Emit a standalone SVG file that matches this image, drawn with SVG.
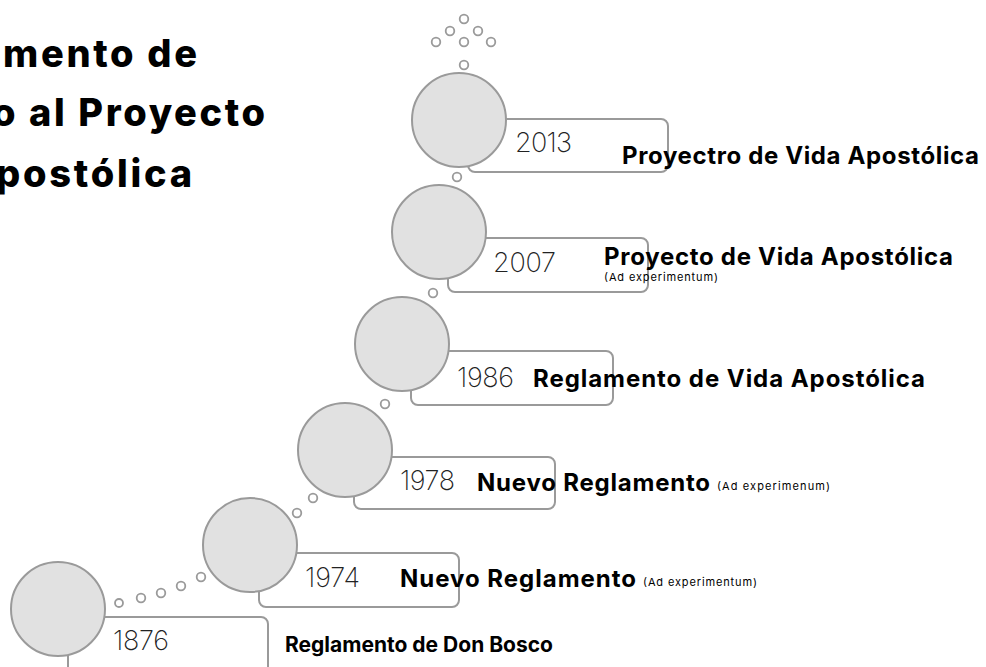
<svg xmlns="http://www.w3.org/2000/svg" width="986" height="667" viewBox="0 0 986 667">
<style>
.box{fill:#fff;stroke:#9a9a9a;stroke-width:2}
.bub{fill:#e1e1e1;stroke:#9a9a9a;stroke-width:2}
.dot{fill:#fff;stroke:#9a9a9a;stroke-width:1.8}
.year{font-family:Inter,"Liberation Sans",sans-serif;font-weight:200;font-size:27px;fill:#222}
.lbl{font-family:Inter,"Liberation Sans",sans-serif;font-weight:700;font-size:24px;fill:#000}
.sm{font-size:21px}
.sub{font-family:Inter,"Liberation Sans",sans-serif;font-weight:400;font-size:11px;fill:#000}
.title{font-family:Inter,"Liberation Sans",sans-serif;font-weight:800;font-size:38px;fill:#000}
</style>
<rect width="986" height="667" fill="#fff"/>
<g id="title">
<text class="title" x="3" y="67" textLength="194">mento de</text>
<text class="title" x="-8" y="126" textLength="273">o al Proyecto</text>
<text class="title" x="-4" y="187" textLength="196">postólica</text>
</g>
<g id="connectors">
<circle class="dot" cx="464" cy="19" r="4.3"/>
<circle class="dot" cx="450" cy="31" r="4.3"/>
<circle class="dot" cx="478" cy="31" r="4.3"/>
<circle class="dot" cx="436" cy="42" r="4.3"/>
<circle class="dot" cx="464" cy="42" r="4.3"/>
<circle class="dot" cx="491" cy="42" r="4.3"/>
<circle class="dot" cx="464" cy="65" r="4.3"/>
<circle class="dot" cx="457" cy="177" r="4.3"/>
<circle class="dot" cx="433" cy="293" r="4.3"/>
<circle class="dot" cx="385" cy="404" r="4.3"/>
<circle class="dot" cx="313" cy="498" r="4.3"/>
<circle class="dot" cx="297" cy="513" r="4.3"/>
<circle class="dot" cx="201" cy="577" r="4.3"/>
<circle class="dot" cx="181" cy="586" r="4.3"/>
<circle class="dot" cx="161" cy="593" r="4.3"/>
<circle class="dot" cx="141" cy="598" r="4.3"/>
<circle class="dot" cx="119" cy="603" r="4"/>
</g>
<g id="node-2013">
<rect class="box" x="468" y="119" width="200" height="53" rx="7"/>
<circle class="bub" cx="459" cy="120" r="47"/>
<text class="year" x="515" y="152" textLength="57">2013</text>
<text class="lbl" x="622" y="164" textLength="357">Proyectro de Vida Apostólica</text>
</g>
<g id="node-2007">
<rect class="box" x="448" y="238" width="200" height="54" rx="7"/>
<circle class="bub" cx="439" cy="232" r="47"/>
<text class="year" x="493" y="272" textLength="63">2007</text>
<text class="lbl" x="604" y="265" textLength="349">Proyecto de Vida Apostólica</text>
<text class="sub" x="604" y="281" textLength="114">(Ad experimentum)</text>
</g>
<g id="node-1986">
<rect class="box" x="411" y="351" width="202" height="54" rx="7"/>
<circle class="bub" cx="402" cy="344" r="47"/>
<text class="year" x="457" y="387" textLength="57">1986</text>
<text class="lbl" x="533" y="387" textLength="392">Reglamento de Vida Apostólica</text>
</g>
<g id="node-1978">
<rect class="box" x="354" y="457" width="201" height="52" rx="7"/>
<circle class="bub" cx="345" cy="450" r="47"/>
<text class="year" x="400" y="490" textLength="55">1978</text>
<text class="lbl" x="477" y="491" textLength="233">Nuevo Reglamento</text>
<text class="sub" x="717" y="490" textLength="113">(Ad experimenum)</text>
</g>
<g id="node-1974">
<rect class="box" x="259" y="553" width="200" height="54" rx="7"/>
<circle class="bub" cx="250" cy="545" r="47"/>
<text class="year" x="305" y="587" textLength="55">1974</text>
<text class="lbl" x="400" y="587" textLength="236">Nuevo Reglamento</text>
<text class="sub" x="643" y="586" textLength="114">(Ad experimentum)</text>
</g>
<g id="node-1876">
<rect class="box" x="68" y="617" width="200" height="60" rx="7"/>
<circle class="bub" cx="58" cy="609" r="47"/>
<text class="year" x="113" y="650" textLength="56">1876</text>
<text class="lbl sm" x="285" y="652" textLength="268">Reglamento de Don Bosco</text>
</g>
</svg>
